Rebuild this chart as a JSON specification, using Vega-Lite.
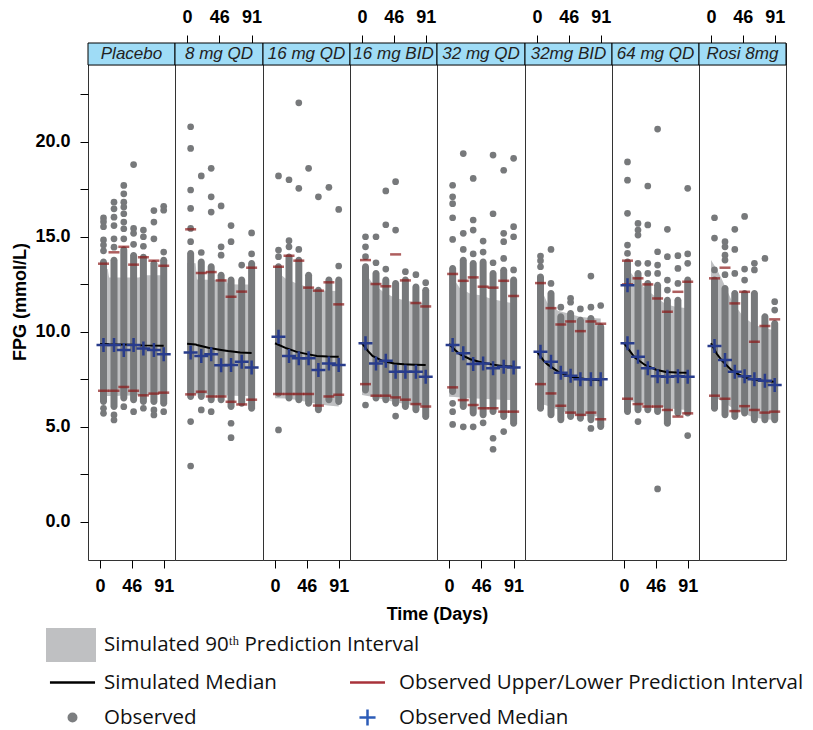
{
  "$schema": "https://vega.github.io/schema/vega-lite/v6.json",
  "background": "white",
  "padding": {"left": 11, "top": 7, "right": 0, "bottom": 0},
  "bounds": "flush",
  "spacing": 0,
  "datasets": {
    "d": [
      {"arm":"Placebo","k":"h"},{"arm":"8 mg QD","k":"h"},{"arm":"16 mg QD","k":"h"},{"arm":"16 mg BID","k":"h"},
      {"arm":"32 mg QD","k":"h"},{"arm":"32mg BID","k":"h"},{"arm":"64 mg QD","k":"h"},{"arm":"Rosi 8mg","k":"h"},
      {"arm":"Placebo","k":"L","s":"Simulated Median"},{"arm":"Placebo","k":"L","s":"Observed"},
      {"arm":"Placebo","k":"L","s":"Observed Upper/Lower Prediction Interval"},{"arm":"Placebo","k":"L","s":"Observed Median"},

      {"arm":"Placebo","k":"b","d":0,"lo":6.62,"hi":13.3,"m":9.35},{"arm":"Placebo","k":"b","d":11,"lo":6.62,"hi":13.3,"m":9.35},
      {"arm":"Placebo","k":"b","d":13,"lo":6.62,"hi":12.86,"m":9.34},{"arm":"Placebo","k":"b","d":46,"lo":6.64,"hi":12.86,"m":9.31},
      {"arm":"Placebo","k":"b","d":56,"lo":6.66,"hi":12.86,"m":9.29},{"arm":"Placebo","k":"b","d":60,"lo":6.68,"hi":12.97,"m":9.28},
      {"arm":"Placebo","k":"b","d":91,"lo":6.75,"hi":12.97,"m":9.26},
      {"arm":"8 mg QD","k":"b","d":0,"lo":6.72,"hi":13.63,"m":9.37},{"arm":"8 mg QD","k":"b","d":12,"lo":6.72,"hi":13.6,"m":9.33},
      {"arm":"8 mg QD","k":"b","d":14,"lo":6.71,"hi":12.75,"m":9.3},{"arm":"8 mg QD","k":"b","d":30,"lo":6.69,"hi":12.74,"m":9.15},
      {"arm":"8 mg QD","k":"b","d":46,"lo":6.67,"hi":12.72,"m":9.05},{"arm":"8 mg QD","k":"b","d":55,"lo":6.65,"hi":12.7,"m":9.0},
      {"arm":"8 mg QD","k":"b","d":58,"lo":6.64,"hi":12.5,"m":8.98},{"arm":"8 mg QD","k":"b","d":75,"lo":6.62,"hi":12.48,"m":8.9},
      {"arm":"8 mg QD","k":"b","d":91,"lo":6.61,"hi":12.48,"m":8.88},
      {"arm":"16 mg QD","k":"b","d":0,"lo":6.5,"hi":13.25,"m":9.39},{"arm":"16 mg QD","k":"b","d":15,"lo":6.48,"hi":12.8,"m":9.15},
      {"arm":"16 mg QD","k":"b","d":30,"lo":6.42,"hi":12.55,"m":8.95},{"arm":"16 mg QD","k":"b","d":46,"lo":6.3,"hi":12.35,"m":8.82},
      {"arm":"16 mg QD","k":"b","d":60,"lo":6.2,"hi":12.2,"m":8.72},{"arm":"16 mg QD","k":"b","d":75,"lo":6.12,"hi":12.15,"m":8.69},
      {"arm":"16 mg QD","k":"b","d":91,"lo":6.06,"hi":12.14,"m":8.68},
      {"arm":"16 mg BID","k":"b","d":0,"lo":6.67,"hi":13.25,"m":9.4},{"arm":"16 mg BID","k":"b","d":8,"lo":6.62,"hi":12.9,"m":9.0},
      {"arm":"16 mg BID","k":"b","d":15,"lo":6.58,"hi":12.55,"m":8.72},{"arm":"16 mg BID","k":"b","d":30,"lo":6.45,"hi":12.1,"m":8.45},
      {"arm":"16 mg BID","k":"b","d":46,"lo":6.3,"hi":11.8,"m":8.33},{"arm":"16 mg BID","k":"b","d":60,"lo":6.2,"hi":11.65,"m":8.28},
      {"arm":"16 mg BID","k":"b","d":75,"lo":6.12,"hi":11.55,"m":8.26},{"arm":"16 mg BID","k":"b","d":91,"lo":6.06,"hi":11.49,"m":8.25},
      {"arm":"32 mg QD","k":"b","d":0,"lo":6.58,"hi":13.16,"m":9.35},{"arm":"32 mg QD","k":"b","d":8,"lo":6.56,"hi":12.7,"m":9.05},
      {"arm":"32 mg QD","k":"b","d":15,"lo":6.54,"hi":12.3,"m":8.82},{"arm":"32 mg QD","k":"b","d":30,"lo":6.5,"hi":12.0,"m":8.55},
      {"arm":"32 mg QD","k":"b","d":46,"lo":6.47,"hi":11.9,"m":8.38},{"arm":"32 mg QD","k":"b","d":60,"lo":6.44,"hi":11.72,"m":8.28},
      {"arm":"32 mg QD","k":"b","d":75,"lo":6.42,"hi":11.6,"m":8.2},{"arm":"32 mg QD","k":"b","d":91,"lo":6.4,"hi":11.49,"m":8.16},
      {"arm":"32mg BID","k":"b","d":0,"lo":6.23,"hi":13.07,"m":8.95},{"arm":"32mg BID","k":"b","d":5,"lo":6.2,"hi":12.6,"m":8.7},
      {"arm":"32mg BID","k":"b","d":10,"lo":6.15,"hi":11.9,"m":8.45},{"arm":"32mg BID","k":"b","d":15,"lo":6.1,"hi":11.5,"m":8.28},
      {"arm":"32mg BID","k":"b","d":30,"lo":5.9,"hi":11.1,"m":7.9},{"arm":"32mg BID","k":"b","d":46,"lo":5.7,"hi":10.95,"m":7.65},
      {"arm":"32mg BID","k":"b","d":60,"lo":5.6,"hi":10.8,"m":7.55},{"arm":"32mg BID","k":"b","d":75,"lo":5.55,"hi":10.72,"m":7.48},
      {"arm":"32mg BID","k":"b","d":91,"lo":5.53,"hi":10.7,"m":7.45},
      {"arm":"64 mg QD","k":"b","d":0,"lo":6.4,"hi":13.7,"m":9.4},{"arm":"64 mg QD","k":"b","d":8,"lo":6.35,"hi":13.2,"m":9.0},
      {"arm":"64 mg QD","k":"b","d":15,"lo":6.3,"hi":12.85,"m":8.65},{"arm":"64 mg QD","k":"b","d":30,"lo":6.2,"hi":12.3,"m":8.25},
      {"arm":"64 mg QD","k":"b","d":46,"lo":6.1,"hi":11.8,"m":8.0},{"arm":"64 mg QD","k":"b","d":60,"lo":6.0,"hi":11.45,"m":7.88},
      {"arm":"64 mg QD","k":"b","d":75,"lo":5.92,"hi":11.3,"m":7.85},{"arm":"64 mg QD","k":"b","d":91,"lo":5.88,"hi":11.23,"m":7.84},
      {"arm":"Rosi 8mg","k":"b","d":0,"lo":6.67,"hi":13.77,"m":9.39},{"arm":"Rosi 8mg","k":"b","d":8,"lo":6.5,"hi":13.3,"m":8.85},
      {"arm":"Rosi 8mg","k":"b","d":15,"lo":6.35,"hi":12.8,"m":8.5},{"arm":"Rosi 8mg","k":"b","d":30,"lo":6.0,"hi":11.6,"m":7.95},
      {"arm":"Rosi 8mg","k":"b","d":46,"lo":5.7,"hi":10.8,"m":7.62},{"arm":"Rosi 8mg","k":"b","d":60,"lo":5.5,"hi":10.4,"m":7.48},
      {"arm":"Rosi 8mg","k":"b","d":75,"lo":5.4,"hi":10.2,"m":7.4},{"arm":"Rosi 8mg","k":"b","d":91,"lo":5.35,"hi":10.08,"m":7.37},

      {"arm":"Placebo","k":"c","d":5,"lo":6.14,"hi":13.86},{"arm":"Placebo","k":"c","d":20,"lo":5.88,"hi":13.95},
      {"arm":"Placebo","k":"c","d":34,"lo":6.32,"hi":14.5},{"arm":"Placebo","k":"c","d":48,"lo":6.23,"hi":14.2},
      {"arm":"Placebo","k":"c","d":62,"lo":6.14,"hi":14.1},{"arm":"Placebo","k":"c","d":77,"lo":6.14,"hi":13.77},
      {"arm":"Placebo","k":"c","d":91,"lo":6.05,"hi":13.95},
      {"arm":"8 mg QD","k":"c","d":5,"lo":6.4,"hi":14.3},{"arm":"8 mg QD","k":"c","d":20,"lo":6.4,"hi":13.86},
      {"arm":"8 mg QD","k":"c","d":34,"lo":6.23,"hi":13.6},{"arm":"8 mg QD","k":"c","d":48,"lo":6.23,"hi":13.16},
      {"arm":"8 mg QD","k":"c","d":62,"lo":5.88,"hi":12.9},{"arm":"8 mg QD","k":"c","d":77,"lo":6.05,"hi":12.9},
      {"arm":"8 mg QD","k":"c","d":91,"lo":5.79,"hi":13.77},
      {"arm":"16 mg QD","k":"c","d":5,"lo":6.58,"hi":13.6},{"arm":"16 mg QD","k":"c","d":20,"lo":6.32,"hi":14.12},
      {"arm":"16 mg QD","k":"c","d":34,"lo":6.23,"hi":13.95},{"arm":"16 mg QD","k":"c","d":48,"lo":6.05,"hi":13.16},
      {"arm":"16 mg QD","k":"c","d":62,"lo":5.7,"hi":12.37},{"arm":"16 mg QD","k":"c","d":77,"lo":6.23,"hi":12.9},
      {"arm":"16 mg QD","k":"c","d":91,"lo":6.14,"hi":12.9},
      {"arm":"16 mg BID","k":"c","d":5,"lo":6.75,"hi":13.6},{"arm":"16 mg BID","k":"c","d":20,"lo":6.32,"hi":13.25},
      {"arm":"16 mg BID","k":"c","d":34,"lo":6.23,"hi":12.9},{"arm":"16 mg BID","k":"c","d":48,"lo":6.05,"hi":12.72},
      {"arm":"16 mg BID","k":"c","d":62,"lo":5.88,"hi":12.9},{"arm":"16 mg BID","k":"c","d":77,"lo":5.7,"hi":12.54},
      {"arm":"16 mg BID","k":"c","d":91,"lo":5.35,"hi":12.37},
      {"arm":"32 mg QD","k":"c","d":5,"lo":6.67,"hi":13.51},{"arm":"32 mg QD","k":"c","d":20,"lo":5.88,"hi":13.95},
      {"arm":"32 mg QD","k":"c","d":34,"lo":5.53,"hi":13.77},{"arm":"32 mg QD","k":"c","d":48,"lo":5.44,"hi":13.86},
      {"arm":"32 mg QD","k":"c","d":62,"lo":5.61,"hi":13.25},{"arm":"32 mg QD","k":"c","d":77,"lo":5.35,"hi":13.42},
      {"arm":"32 mg QD","k":"c","d":91,"lo":5.0,"hi":12.9},
      {"arm":"32mg BID","k":"c","d":5,"lo":5.79,"hi":13.07},{"arm":"32mg BID","k":"c","d":20,"lo":5.44,"hi":12.19},
      {"arm":"32mg BID","k":"c","d":34,"lo":5.18,"hi":10.97},{"arm":"32mg BID","k":"c","d":48,"lo":5.35,"hi":11.14},
      {"arm":"32mg BID","k":"c","d":62,"lo":5.26,"hi":10.79},{"arm":"32mg BID","k":"c","d":77,"lo":5.18,"hi":10.88},
      {"arm":"32mg BID","k":"c","d":91,"lo":4.83,"hi":10.44},
      {"arm":"64 mg QD","k":"c","d":5,"lo":5.61,"hi":13.86},{"arm":"64 mg QD","k":"c","d":20,"lo":5.7,"hi":13.25},
      {"arm":"64 mg QD","k":"c","d":34,"lo":5.7,"hi":12.72},{"arm":"64 mg QD","k":"c","d":48,"lo":5.61,"hi":12.63},
      {"arm":"64 mg QD","k":"c","d":62,"lo":5.0,"hi":11.84},{"arm":"64 mg QD","k":"c","d":77,"lo":5.53,"hi":11.84},
      {"arm":"64 mg QD","k":"c","d":91,"lo":5.53,"hi":12.9},
      {"arm":"Rosi 8mg","k":"c","d":5,"lo":5.79,"hi":12.9},{"arm":"Rosi 8mg","k":"c","d":20,"lo":5.44,"hi":12.46},
      {"arm":"Rosi 8mg","k":"c","d":34,"lo":5.35,"hi":12.19},{"arm":"Rosi 8mg","k":"c","d":48,"lo":5.53,"hi":12.19},
      {"arm":"Rosi 8mg","k":"c","d":62,"lo":5.18,"hi":12.19},{"arm":"Rosi 8mg","k":"c","d":77,"lo":5.18,"hi":10.97},
      {"arm":"Rosi 8mg","k":"c","d":91,"lo":5.18,"hi":10.62},

      {"arm":"Placebo","k":"o","d":5,"v":15.99},{"arm":"Placebo","k":"o","d":5,"v":15.79},{"arm":"Placebo","k":"o","d":5,"v":15.53},
      {"arm":"Placebo","k":"o","d":5,"v":14.83},{"arm":"Placebo","k":"o","d":5,"v":14.56},{"arm":"Placebo","k":"o","d":5,"v":14.26},
      {"arm":"Placebo","k":"o","d":5,"v":5.97},{"arm":"Placebo","k":"o","d":5,"v":5.7},
      {"arm":"Placebo","k":"o","d":20,"v":16.82},{"arm":"Placebo","k":"o","d":20,"v":16.47},{"arm":"Placebo","k":"o","d":20,"v":16.03},
      {"arm":"Placebo","k":"o","d":20,"v":15.59},{"arm":"Placebo","k":"o","d":20,"v":14.89},{"arm":"Placebo","k":"o","d":20,"v":14.45},
      {"arm":"Placebo","k":"o","d":20,"v":5.62},{"arm":"Placebo","k":"o","d":20,"v":5.35},
      {"arm":"Placebo","k":"o","d":34,"v":17.7},{"arm":"Placebo","k":"o","d":34,"v":17.26},{"arm":"Placebo","k":"o","d":34,"v":16.82},
      {"arm":"Placebo","k":"o","d":34,"v":16.56},{"arm":"Placebo","k":"o","d":34,"v":16.21},{"arm":"Placebo","k":"o","d":34,"v":15.77},
      {"arm":"Placebo","k":"o","d":34,"v":15.42},{"arm":"Placebo","k":"o","d":34,"v":14.89},{"arm":"Placebo","k":"o","d":34,"v":6.05},
      {"arm":"Placebo","k":"o","d":48,"v":18.8},{"arm":"Placebo","k":"o","d":48,"v":15.44},{"arm":"Placebo","k":"o","d":48,"v":15.18},
      {"arm":"Placebo","k":"o","d":48,"v":14.6},{"arm":"Placebo","k":"o","d":48,"v":5.79},
      {"arm":"Placebo","k":"o","d":62,"v":15.35},{"arm":"Placebo","k":"o","d":62,"v":15.0},{"arm":"Placebo","k":"o","d":62,"v":14.5},
      {"arm":"Placebo","k":"o","d":62,"v":5.97},
      {"arm":"Placebo","k":"o","d":77,"v":16.38},{"arm":"Placebo","k":"o","d":77,"v":15.77},{"arm":"Placebo","k":"o","d":77,"v":14.89},
      {"arm":"Placebo","k":"o","d":77,"v":5.88},{"arm":"Placebo","k":"o","d":77,"v":5.62},
      {"arm":"Placebo","k":"o","d":91,"v":16.6},{"arm":"Placebo","k":"o","d":91,"v":16.4},{"arm":"Placebo","k":"o","d":91,"v":14.19},
      {"arm":"Placebo","k":"o","d":91,"v":5.79},

      {"arm":"8 mg QD","k":"o","d":5,"v":20.79},{"arm":"8 mg QD","k":"o","d":5,"v":19.65},{"arm":"8 mg QD","k":"o","d":5,"v":17.46},
      {"arm":"8 mg QD","k":"o","d":5,"v":16.49},{"arm":"8 mg QD","k":"o","d":5,"v":15.44},{"arm":"8 mg QD","k":"o","d":5,"v":14.74},
      {"arm":"8 mg QD","k":"o","d":5,"v":5.27},{"arm":"8 mg QD","k":"o","d":5,"v":2.93},
      {"arm":"8 mg QD","k":"o","d":20,"v":18.2},{"arm":"8 mg QD","k":"o","d":20,"v":14.17},{"arm":"8 mg QD","k":"o","d":20,"v":5.88},
      {"arm":"8 mg QD","k":"o","d":34,"v":18.6},{"arm":"8 mg QD","k":"o","d":34,"v":17.1},{"arm":"8 mg QD","k":"o","d":34,"v":16.3},
      {"arm":"8 mg QD","k":"o","d":34,"v":5.79},
      {"arm":"8 mg QD","k":"o","d":48,"v":16.62},{"arm":"8 mg QD","k":"o","d":48,"v":14.47},{"arm":"8 mg QD","k":"o","d":48,"v":14.03},
      {"arm":"8 mg QD","k":"o","d":62,"v":15.59},{"arm":"8 mg QD","k":"o","d":62,"v":14.74},{"arm":"8 mg QD","k":"o","d":62,"v":5.18},
      {"arm":"8 mg QD","k":"o","d":62,"v":4.42},
      {"arm":"8 mg QD","k":"o","d":77,"v":13.51},
      {"arm":"8 mg QD","k":"o","d":91,"v":15.2},{"arm":"8 mg QD","k":"o","d":91,"v":14.1},

      {"arm":"16 mg QD","k":"o","d":5,"v":18.2},{"arm":"16 mg QD","k":"o","d":5,"v":14.3},{"arm":"16 mg QD","k":"o","d":5,"v":13.95},
      {"arm":"16 mg QD","k":"o","d":5,"v":4.83},
      {"arm":"16 mg QD","k":"o","d":20,"v":18.0},{"arm":"16 mg QD","k":"o","d":20,"v":14.79},{"arm":"16 mg QD","k":"o","d":20,"v":14.47},
      {"arm":"16 mg QD","k":"o","d":34,"v":22.05},{"arm":"16 mg QD","k":"o","d":34,"v":17.55},{"arm":"16 mg QD","k":"o","d":34,"v":14.33},
      {"arm":"16 mg QD","k":"o","d":48,"v":18.6},
      {"arm":"16 mg QD","k":"o","d":62,"v":17.1},
      {"arm":"16 mg QD","k":"o","d":77,"v":17.6},
      {"arm":"16 mg QD","k":"o","d":91,"v":16.44},{"arm":"16 mg QD","k":"o","d":91,"v":13.46},

      {"arm":"16 mg BID","k":"o","d":5,"v":15.0},{"arm":"16 mg BID","k":"o","d":5,"v":14.47},{"arm":"16 mg BID","k":"o","d":5,"v":13.95},
      {"arm":"16 mg BID","k":"o","d":5,"v":6.14},
      {"arm":"16 mg BID","k":"o","d":20,"v":15.0},{"arm":"16 mg BID","k":"o","d":20,"v":13.63},
      {"arm":"16 mg BID","k":"o","d":34,"v":17.41},{"arm":"16 mg BID","k":"o","d":34,"v":15.63},{"arm":"16 mg BID","k":"o","d":34,"v":13.3},
      {"arm":"16 mg BID","k":"o","d":48,"v":17.9},{"arm":"16 mg BID","k":"o","d":48,"v":15.35},{"arm":"16 mg BID","k":"o","d":48,"v":5.56},
      {"arm":"16 mg BID","k":"o","d":62,"v":13.16},
      {"arm":"16 mg BID","k":"o","d":77,"v":13.0},
      {"arm":"16 mg BID","k":"o","d":91,"v":12.58},

      {"arm":"32 mg QD","k":"o","d":5,"v":17.71},{"arm":"32 mg QD","k":"o","d":5,"v":17.1},{"arm":"32 mg QD","k":"o","d":5,"v":16.74},
      {"arm":"32 mg QD","k":"o","d":5,"v":16.0},{"arm":"32 mg QD","k":"o","d":5,"v":14.86},{"arm":"32 mg QD","k":"o","d":5,"v":6.23},
      {"arm":"32 mg QD","k":"o","d":5,"v":5.79},{"arm":"32 mg QD","k":"o","d":5,"v":5.12},
      {"arm":"32 mg QD","k":"o","d":20,"v":19.38},{"arm":"32 mg QD","k":"o","d":20,"v":15.18},{"arm":"32 mg QD","k":"o","d":20,"v":14.33},
      {"arm":"32 mg QD","k":"o","d":20,"v":4.99},
      {"arm":"32 mg QD","k":"o","d":34,"v":18.07},{"arm":"32 mg QD","k":"o","d":34,"v":15.88},{"arm":"32 mg QD","k":"o","d":34,"v":15.35},
      {"arm":"32 mg QD","k":"o","d":34,"v":14.1},{"arm":"32 mg QD","k":"o","d":34,"v":4.99},
      {"arm":"32 mg QD","k":"o","d":48,"v":14.77},{"arm":"32 mg QD","k":"o","d":48,"v":14.19},{"arm":"32 mg QD","k":"o","d":48,"v":5.2},
      {"arm":"32 mg QD","k":"o","d":62,"v":19.3},{"arm":"32 mg QD","k":"o","d":62,"v":16.21},{"arm":"32 mg QD","k":"o","d":62,"v":13.63},
      {"arm":"32 mg QD","k":"o","d":62,"v":4.39},{"arm":"32 mg QD","k":"o","d":62,"v":3.81},
      {"arm":"32 mg QD","k":"o","d":77,"v":18.5},{"arm":"32 mg QD","k":"o","d":77,"v":15.18},{"arm":"32 mg QD","k":"o","d":77,"v":14.74},
      {"arm":"32 mg QD","k":"o","d":77,"v":13.86},{"arm":"32 mg QD","k":"o","d":77,"v":4.74},
      {"arm":"32 mg QD","k":"o","d":91,"v":19.13},{"arm":"32 mg QD","k":"o","d":91,"v":15.53},{"arm":"32 mg QD","k":"o","d":91,"v":15.0},
      {"arm":"32 mg QD","k":"o","d":91,"v":13.25},

      {"arm":"32mg BID","k":"o","d":5,"v":13.98},{"arm":"32mg BID","k":"o","d":5,"v":13.74},{"arm":"32mg BID","k":"o","d":5,"v":13.42},
      {"arm":"32mg BID","k":"o","d":20,"v":14.33},{"arm":"32mg BID","k":"o","d":20,"v":12.54},
      {"arm":"32mg BID","k":"o","d":34,"v":11.29},
      {"arm":"32mg BID","k":"o","d":48,"v":11.76},{"arm":"32mg BID","k":"o","d":48,"v":11.55},
      {"arm":"32mg BID","k":"o","d":62,"v":11.2},
      {"arm":"32mg BID","k":"o","d":77,"v":12.93},{"arm":"32mg BID","k":"o","d":77,"v":11.29},{"arm":"32mg BID","k":"o","d":77,"v":4.91},
      {"arm":"32mg BID","k":"o","d":91,"v":11.38},

      {"arm":"64 mg QD","k":"o","d":5,"v":18.94},{"arm":"64 mg QD","k":"o","d":5,"v":17.98},{"arm":"64 mg QD","k":"o","d":5,"v":16.23},
      {"arm":"64 mg QD","k":"o","d":5,"v":14.56},{"arm":"64 mg QD","k":"o","d":5,"v":14.12},
      {"arm":"64 mg QD","k":"o","d":20,"v":15.7},{"arm":"64 mg QD","k":"o","d":20,"v":15.35},{"arm":"64 mg QD","k":"o","d":20,"v":15.09},
      {"arm":"64 mg QD","k":"o","d":20,"v":13.6},{"arm":"64 mg QD","k":"o","d":20,"v":5.27},
      {"arm":"64 mg QD","k":"o","d":34,"v":17.67},{"arm":"64 mg QD","k":"o","d":34,"v":15.62},{"arm":"64 mg QD","k":"o","d":34,"v":13.6},
      {"arm":"64 mg QD","k":"o","d":34,"v":13.07},
      {"arm":"64 mg QD","k":"o","d":48,"v":20.67},{"arm":"64 mg QD","k":"o","d":48,"v":14.21},{"arm":"64 mg QD","k":"o","d":48,"v":13.51},
      {"arm":"64 mg QD","k":"o","d":48,"v":13.07},{"arm":"64 mg QD","k":"o","d":48,"v":1.72},
      {"arm":"64 mg QD","k":"o","d":62,"v":15.39},{"arm":"64 mg QD","k":"o","d":62,"v":13.95},{"arm":"64 mg QD","k":"o","d":62,"v":12.72},
      {"arm":"64 mg QD","k":"o","d":62,"v":12.19},
      {"arm":"64 mg QD","k":"o","d":77,"v":14.0},{"arm":"64 mg QD","k":"o","d":77,"v":13.33},{"arm":"64 mg QD","k":"o","d":77,"v":12.54},
      {"arm":"64 mg QD","k":"o","d":91,"v":17.55},{"arm":"64 mg QD","k":"o","d":91,"v":14.1},{"arm":"64 mg QD","k":"o","d":91,"v":13.6},
      {"arm":"64 mg QD","k":"o","d":91,"v":4.53},

      {"arm":"Rosi 8mg","k":"o","d":5,"v":16.0},{"arm":"Rosi 8mg","k":"o","d":5,"v":14.93},{"arm":"Rosi 8mg","k":"o","d":5,"v":13.25},
      {"arm":"Rosi 8mg","k":"o","d":20,"v":14.74},{"arm":"Rosi 8mg","k":"o","d":20,"v":14.47},{"arm":"Rosi 8mg","k":"o","d":20,"v":14.03},
      {"arm":"Rosi 8mg","k":"o","d":20,"v":13.77},{"arm":"Rosi 8mg","k":"o","d":20,"v":13.0},
      {"arm":"Rosi 8mg","k":"o","d":34,"v":15.39},{"arm":"Rosi 8mg","k":"o","d":34,"v":14.33},{"arm":"Rosi 8mg","k":"o","d":34,"v":13.07},
      {"arm":"Rosi 8mg","k":"o","d":48,"v":16.07},{"arm":"Rosi 8mg","k":"o","d":48,"v":13.3},{"arm":"Rosi 8mg","k":"o","d":48,"v":12.72},
      {"arm":"Rosi 8mg","k":"o","d":62,"v":13.6},{"arm":"Rosi 8mg","k":"o","d":62,"v":13.25},
      {"arm":"Rosi 8mg","k":"o","d":77,"v":13.86},
      {"arm":"Rosi 8mg","k":"o","d":91,"v":11.58},{"arm":"Rosi 8mg","k":"o","d":91,"v":11.14},

      {"arm":"Placebo","k":"p","d":5,"v":13.58},{"arm":"Placebo","k":"p","d":20,"v":14.18},{"arm":"Placebo","k":"p","d":34,"v":14.47},
      {"arm":"Placebo","k":"p","d":48,"v":13.53},{"arm":"Placebo","k":"p","d":62,"v":13.92},{"arm":"Placebo","k":"p","d":77,"v":13.74},
      {"arm":"Placebo","k":"p","d":91,"v":13.47},
      {"arm":"Placebo","k":"p","d":5,"v":6.89},{"arm":"Placebo","k":"p","d":20,"v":6.89},{"arm":"Placebo","k":"p","d":34,"v":7.09},
      {"arm":"Placebo","k":"p","d":48,"v":6.89},{"arm":"Placebo","k":"p","d":62,"v":6.65},{"arm":"Placebo","k":"p","d":77,"v":6.74},
      {"arm":"Placebo","k":"p","d":91,"v":6.79},
      {"arm":"8 mg QD","k":"p","d":5,"v":15.39},{"arm":"8 mg QD","k":"p","d":20,"v":13.09},{"arm":"8 mg QD","k":"p","d":34,"v":13.14},
      {"arm":"8 mg QD","k":"p","d":48,"v":12.7},{"arm":"8 mg QD","k":"p","d":62,"v":11.84},{"arm":"8 mg QD","k":"p","d":77,"v":12.11},
      {"arm":"8 mg QD","k":"p","d":91,"v":13.37},
      {"arm":"8 mg QD","k":"p","d":5,"v":6.7},{"arm":"8 mg QD","k":"p","d":20,"v":6.84},{"arm":"8 mg QD","k":"p","d":34,"v":6.59},
      {"arm":"8 mg QD","k":"p","d":48,"v":6.59},{"arm":"8 mg QD","k":"p","d":62,"v":6.31},{"arm":"8 mg QD","k":"p","d":77,"v":6.17},
      {"arm":"8 mg QD","k":"p","d":91,"v":6.42},
      {"arm":"16 mg QD","k":"p","d":5,"v":13.42},{"arm":"16 mg QD","k":"p","d":20,"v":14.0},{"arm":"16 mg QD","k":"p","d":34,"v":13.74},
      {"arm":"16 mg QD","k":"p","d":48,"v":12.32},{"arm":"16 mg QD","k":"p","d":62,"v":12.16},{"arm":"16 mg QD","k":"p","d":77,"v":12.6},
      {"arm":"16 mg QD","k":"p","d":91,"v":11.44},
      {"arm":"16 mg QD","k":"p","d":5,"v":6.72},{"arm":"16 mg QD","k":"p","d":20,"v":6.72},{"arm":"16 mg QD","k":"p","d":34,"v":6.72},
      {"arm":"16 mg QD","k":"p","d":48,"v":6.72},{"arm":"16 mg QD","k":"p","d":62,"v":6.11},{"arm":"16 mg QD","k":"p","d":77,"v":6.59},
      {"arm":"16 mg QD","k":"p","d":91,"v":6.68},
      {"arm":"16 mg BID","k":"p","d":5,"v":13.77},{"arm":"16 mg BID","k":"p","d":20,"v":12.51},{"arm":"16 mg BID","k":"p","d":34,"v":12.39},
      {"arm":"16 mg BID","k":"p","d":48,"v":14.07},{"arm":"16 mg BID","k":"p","d":62,"v":12.7},{"arm":"16 mg BID","k":"p","d":77,"v":11.51},
      {"arm":"16 mg BID","k":"p","d":91,"v":11.33},
      {"arm":"16 mg BID","k":"p","d":5,"v":7.24},{"arm":"16 mg BID","k":"p","d":20,"v":6.63},{"arm":"16 mg BID","k":"p","d":34,"v":6.63},
      {"arm":"16 mg BID","k":"p","d":48,"v":6.54},{"arm":"16 mg BID","k":"p","d":62,"v":6.42},{"arm":"16 mg BID","k":"p","d":77,"v":6.19},
      {"arm":"16 mg BID","k":"p","d":91,"v":6.06},
      {"arm":"32 mg QD","k":"p","d":5,"v":13.04},{"arm":"32 mg QD","k":"p","d":20,"v":12.68},{"arm":"32 mg QD","k":"p","d":34,"v":12.86},
      {"arm":"32 mg QD","k":"p","d":48,"v":12.37},{"arm":"32 mg QD","k":"p","d":62,"v":12.32},{"arm":"32 mg QD","k":"p","d":77,"v":12.68},
      {"arm":"32 mg QD","k":"p","d":91,"v":11.88},
      {"arm":"32 mg QD","k":"p","d":5,"v":7.07},{"arm":"32 mg QD","k":"p","d":20,"v":6.4},{"arm":"32 mg QD","k":"p","d":34,"v":6.14},
      {"arm":"32 mg QD","k":"p","d":48,"v":5.97},{"arm":"32 mg QD","k":"p","d":62,"v":5.97},{"arm":"32 mg QD","k":"p","d":77,"v":5.79},
      {"arm":"32 mg QD","k":"p","d":91,"v":5.79},
      {"arm":"32mg BID","k":"p","d":5,"v":12.56},{"arm":"32mg BID","k":"p","d":20,"v":11.24},{"arm":"32mg BID","k":"p","d":34,"v":10.38},
      {"arm":"32mg BID","k":"p","d":48,"v":10.54},{"arm":"32mg BID","k":"p","d":62,"v":10.03},{"arm":"32mg BID","k":"p","d":77,"v":10.54},
      {"arm":"32mg BID","k":"p","d":91,"v":10.42},
      {"arm":"32mg BID","k":"p","d":5,"v":7.24},{"arm":"32mg BID","k":"p","d":20,"v":6.75},{"arm":"32mg BID","k":"p","d":34,"v":6.1},
      {"arm":"32mg BID","k":"p","d":48,"v":5.74},{"arm":"32mg BID","k":"p","d":62,"v":5.62},{"arm":"32mg BID","k":"p","d":77,"v":5.74},
      {"arm":"32mg BID","k":"p","d":91,"v":5.39},
      {"arm":"64 mg QD","k":"p","d":5,"v":13.74},{"arm":"64 mg QD","k":"p","d":5,"v":12.49},{"arm":"64 mg QD","k":"p","d":20,"v":12.81},
      {"arm":"64 mg QD","k":"p","d":34,"v":12.49},{"arm":"64 mg QD","k":"p","d":48,"v":11.75},{"arm":"64 mg QD","k":"p","d":62,"v":11.05},
      {"arm":"64 mg QD","k":"p","d":77,"v":12.1},{"arm":"64 mg QD","k":"p","d":91,"v":12.63},
      {"arm":"64 mg QD","k":"p","d":5,"v":6.47},{"arm":"64 mg QD","k":"p","d":20,"v":6.19},{"arm":"64 mg QD","k":"p","d":34,"v":6.06},
      {"arm":"64 mg QD","k":"p","d":48,"v":6.06},{"arm":"64 mg QD","k":"p","d":62,"v":5.88},{"arm":"64 mg QD","k":"p","d":77,"v":5.53},
      {"arm":"64 mg QD","k":"p","d":91,"v":5.7},
      {"arm":"Rosi 8mg","k":"p","d":5,"v":12.81},{"arm":"Rosi 8mg","k":"p","d":20,"v":13.37},{"arm":"Rosi 8mg","k":"p","d":34,"v":11.49},
      {"arm":"Rosi 8mg","k":"p","d":48,"v":12.1},{"arm":"Rosi 8mg","k":"p","d":62,"v":9.47},{"arm":"Rosi 8mg","k":"p","d":77,"v":10.3},
      {"arm":"Rosi 8mg","k":"p","d":91,"v":10.65},
      {"arm":"Rosi 8mg","k":"p","d":5,"v":6.63},{"arm":"Rosi 8mg","k":"p","d":20,"v":6.47},{"arm":"Rosi 8mg","k":"p","d":34,"v":5.82},
      {"arm":"Rosi 8mg","k":"p","d":48,"v":6.08},{"arm":"Rosi 8mg","k":"p","d":62,"v":5.88},{"arm":"Rosi 8mg","k":"p","d":77,"v":5.74},
      {"arm":"Rosi 8mg","k":"p","d":91,"v":5.79},

      {"arm":"Placebo","k":"m","d":5,"v":9.3},{"arm":"Placebo","k":"m","d":20,"v":9.3},{"arm":"Placebo","k":"m","d":34,"v":9.03},
      {"arm":"Placebo","k":"m","d":48,"v":9.3},{"arm":"Placebo","k":"m","d":62,"v":9.12},{"arm":"Placebo","k":"m","d":77,"v":9.03},
      {"arm":"Placebo","k":"m","d":91,"v":8.81},
      {"arm":"8 mg QD","k":"m","d":5,"v":8.9},{"arm":"8 mg QD","k":"m","d":20,"v":8.72},{"arm":"8 mg QD","k":"m","d":34,"v":8.81},
      {"arm":"8 mg QD","k":"m","d":48,"v":8.23},{"arm":"8 mg QD","k":"m","d":62,"v":8.25},{"arm":"8 mg QD","k":"m","d":77,"v":8.42},
      {"arm":"8 mg QD","k":"m","d":91,"v":8.11},
      {"arm":"16 mg QD","k":"m","d":5,"v":9.74},{"arm":"16 mg QD","k":"m","d":20,"v":8.72},{"arm":"16 mg QD","k":"m","d":34,"v":8.6},
      {"arm":"16 mg QD","k":"m","d":48,"v":8.6},{"arm":"16 mg QD","k":"m","d":62,"v":7.98},{"arm":"16 mg QD","k":"m","d":77,"v":8.33},
      {"arm":"16 mg QD","k":"m","d":91,"v":8.25},
      {"arm":"16 mg BID","k":"m","d":5,"v":9.39},{"arm":"16 mg BID","k":"m","d":20,"v":8.33},{"arm":"16 mg BID","k":"m","d":34,"v":8.47},
      {"arm":"16 mg BID","k":"m","d":48,"v":7.89},{"arm":"16 mg BID","k":"m","d":62,"v":7.89},{"arm":"16 mg BID","k":"m","d":77,"v":7.89},
      {"arm":"16 mg BID","k":"m","d":91,"v":7.63},
      {"arm":"32 mg QD","k":"m","d":5,"v":9.3},{"arm":"32 mg QD","k":"m","d":20,"v":8.86},{"arm":"32 mg QD","k":"m","d":34,"v":8.3},
      {"arm":"32 mg QD","k":"m","d":48,"v":8.33},{"arm":"32 mg QD","k":"m","d":62,"v":8.07},{"arm":"32 mg QD","k":"m","d":77,"v":8.16},
      {"arm":"32 mg QD","k":"m","d":91,"v":8.12},
      {"arm":"32mg BID","k":"m","d":5,"v":8.95},{"arm":"32mg BID","k":"m","d":20,"v":8.42},{"arm":"32mg BID","k":"m","d":34,"v":7.84},
      {"arm":"32mg BID","k":"m","d":48,"v":7.68},{"arm":"32mg BID","k":"m","d":62,"v":7.5},{"arm":"32mg BID","k":"m","d":77,"v":7.49},
      {"arm":"32mg BID","k":"m","d":91,"v":7.49},
      {"arm":"64 mg QD","k":"m","d":5,"v":9.39},{"arm":"64 mg QD","k":"m","d":5,"v":12.44},{"arm":"64 mg QD","k":"m","d":20,"v":8.68},
      {"arm":"64 mg QD","k":"m","d":34,"v":8.07},{"arm":"64 mg QD","k":"m","d":48,"v":7.66},{"arm":"64 mg QD","k":"m","d":62,"v":7.63},
      {"arm":"64 mg QD","k":"m","d":77,"v":7.66},{"arm":"64 mg QD","k":"m","d":91,"v":7.63},
      {"arm":"Rosi 8mg","k":"m","d":5,"v":9.25},{"arm":"Rosi 8mg","k":"m","d":20,"v":8.51},{"arm":"Rosi 8mg","k":"m","d":34,"v":7.89},
      {"arm":"Rosi 8mg","k":"m","d":48,"v":7.66},{"arm":"Rosi 8mg","k":"m","d":62,"v":7.49},{"arm":"Rosi 8mg","k":"m","d":77,"v":7.42},
      {"arm":"Rosi 8mg","k":"m","d":91,"v":7.19}
    ]
  },
  "hconcat": [
    {
      "width": 87, "height": 517,
      "data": {"name": "d"},
      "transform": [{"filter": "datum.arm === 'Placebo'"}],
      "layer": [
        {"transform": [{"filter": "datum.k === 'b'"}], "mark": {"type": "area"},
         "encoding": {
           "x": {"field": "d", "type": "quantitative", "scale": {"domain": [-10, 100], "nice": false, "zero": false},
                 "axis": {"orient": "bottom", "values": [0, 22.75, 45.5, 68.25, 91], "labelExpr": "datum.value == 0 ? '0' : datum.value == 45.5 ? '46' : datum.value == 91 ? '91' : ''", "title": null}},
           "y": {"field": "lo", "type": "quantitative", "scale": {"domain": [-2.02, 25.2], "nice": false, "zero": false},
                 "axis": {"values": [0, 2.5, 5, 7.5, 10, 12.5, 15, 17.5, 20, 22.5], "labelExpr": "datum.value % 5 == 0 ? format(datum.value, '.1f') : ''", "title": "FPG (mmol/L)", "labelPadding": 10, "titlePadding": 5}},
           "y2": {"field": "hi"},
           "color": {"datum": "Simulated 90ᵗʰ Prediction Interval", "scale": {"range": ["#bfc0c2"]},
                     "legend": {"orient": "none", "legendX": -42, "legendY": 577, "title": null, "padding": 0, "symbolType": "M-1,-0.68H1V0.68H-1Z", "symbolSize": 2500, "symbolStrokeWidth": 0, "labelFont": "Open Sans", "labelFontSize": 20.5, "labelColor": "#111", "labelOffset": 8, "labelLimit": 0}}
         }},
        {"transform": [{"filter": "datum.k === 'h'"}], "mark": {"type": "rect", "fill": "#9fdcf6", "stroke": "#000", "strokeWidth": 1},
         "encoding": {"x": {"value": 0}, "x2": {"value": "width"}, "y": {"datum": 24.04, "type": "quantitative"}, "y2": {"datum": 25.2}}},
        {"transform": [{"filter": "datum.k === 'h'"}], "mark": {"type": "text", "font": "Liberation Sans", "fontStyle": "italic", "fontSize": 17, "color": "#222", "baseline": "middle", "align": "center"},
         "encoding": {"x": {"datum": 45, "type": "quantitative"}, "y": {"datum": 24.62, "type": "quantitative"}, "text": {"field": "arm"}}},
        {"transform": [{"filter": "datum.k === 'c'"}], "mark": {"type": "bar", "width": 7, "cornerRadius": 3.5, "color": "#77797b"},
         "encoding": {"x": {"field": "d", "type": "quantitative"}, "y": {"field": "lo", "type": "quantitative"}, "y2": {"field": "hi"}}},
        {"transform": [{"filter": "datum.k === 'o'"}], "mark": {"type": "point", "filled": true, "size": 45, "opacity": 1, "color": "#77797b"},
         "encoding": {"x": {"field": "d", "type": "quantitative"}, "y": {"field": "v", "type": "quantitative"}}},
        {"transform": [{"filter": "datum.k === 'b'"}], "mark": {"type": "line", "color": "#000", "strokeWidth": 2},
         "encoding": {"x": {"field": "d", "type": "quantitative"}, "y": {"field": "m", "type": "quantitative"}}},
        {"transform": [{"filter": "datum.k === 'p'"}], "mark": {"type": "tick", "orient": "horizontal", "thickness": 2.5, "color": "#8b1a1a"},
         "encoding": {"x": {"field": "d", "type": "quantitative"}, "y": {"field": "v", "type": "quantitative"}, "size": {"value": 11}}},
        {"transform": [{"filter": "datum.k === 'm'"}], "mark": {"type": "point", "shape": "M-1,0H1M0,-1V1", "filled": false, "size": 196, "strokeWidth": 2.5, "color": "#283c8c", "opacity": 1},
         "encoding": {"x": {"field": "d", "type": "quantitative"}, "y": {"field": "v", "type": "quantitative"}}},
        {"transform": [{"filter": "datum.k === 'L'"}], "mark": {"type": "point", "filled": false, "opacity": 0, "strokeWidth": 2.5},
         "encoding": {
           "stroke": {"field": "s", "type": "nominal",
                    "scale": {"domain": ["Simulated Median", "Observed", "Observed Upper/Lower Prediction Interval", "Observed Median"], "range": ["#000000", "#7c7e80", "#a8323a", "#2c5cb8"]},
                    "legend": {"orient": "none", "legendX": -40, "legendY": 615, "title": null, "padding": 0, "columns": 2, "columnPadding": 66, "rowPadding": -19, "symbolSize": 2116, "symbolStrokeWidth": 2.5, "symbolOpacity": 1, "labelFont": "Open Sans", "labelFontSize": 20.5, "labelColor": "#111", "labelOffset": 7, "labelLimit": 0}},
           "shape": {"field": "s", "type": "nominal",
                    "scale": {"domain": ["Simulated Median", "Observed", "Observed Upper/Lower Prediction Interval", "Observed Median"], "range": ["M-0.98,0H0.98", "M-0.163,0A0.163,0.163,0,1,1,0.163,0A0.163,0.163,0,1,1,-0.163,0ZM-0.054,0A0.054,0.054,0,1,1,0.054,0A0.054,0.054,0,1,1,-0.054,0Z", "M-0.76,0H0.76", "M-0.35,0H0.35M0,-0.35V0.35"]},
                    "legend": {"title": null}}
         }}
      ]
    },
    {
      "width": 88, "height": 517,
      "data": {"name": "d"},
      "transform": [{"filter": "datum.arm === '8 mg QD'"}],
      "layer": [
        {"transform": [{"filter": "datum.k === 'b'"}], "mark": {"type": "area"},
         "encoding": {
           "x": {"field": "d", "type": "quantitative", "scale": {"domain": [-10, 100], "nice": false, "zero": false},
                 "axis": {"orient": "top", "values": [0, 22.75, 45.5, 68.25, 91], "labelExpr": "datum.value == 0 ? '0' : datum.value == 45.5 ? '46' : datum.value == 91 ? '91' : ''", "title": null}},
           "y": {"field": "lo", "type": "quantitative", "scale": {"domain": [-2.02, 25.2], "nice": false, "zero": false}, "axis": {"labels": false, "ticks": false, "domain": false, "title": null}},
           "y2": {"field": "hi"},
           "color": {"datum": "Simulated 90ᵗʰ Prediction Interval"}
         }},
        {"transform": [{"filter": "datum.k === 'h'"}], "mark": {"type": "rect", "fill": "#9fdcf6", "stroke": "#000", "strokeWidth": 1},
         "encoding": {"x": {"value": 0}, "x2": {"value": "width"}, "y": {"datum": 24.04, "type": "quantitative"}, "y2": {"datum": 25.2}}},
        {"transform": [{"filter": "datum.k === 'h'"}], "mark": {"type": "text", "font": "Liberation Sans", "fontStyle": "italic", "fontSize": 17, "color": "#222", "baseline": "middle", "align": "center"},
         "encoding": {"x": {"datum": 45, "type": "quantitative"}, "y": {"datum": 24.62, "type": "quantitative"}, "text": {"field": "arm"}}},
        {"transform": [{"filter": "datum.k === 'c'"}], "mark": {"type": "bar", "width": 7, "cornerRadius": 3.5, "color": "#77797b"},
         "encoding": {"x": {"field": "d", "type": "quantitative"}, "y": {"field": "lo", "type": "quantitative"}, "y2": {"field": "hi"}}},
        {"transform": [{"filter": "datum.k === 'o'"}], "mark": {"type": "point", "filled": true, "size": 45, "opacity": 1, "color": "#77797b"},
         "encoding": {"x": {"field": "d", "type": "quantitative"}, "y": {"field": "v", "type": "quantitative"}}},
        {"transform": [{"filter": "datum.k === 'b'"}], "mark": {"type": "line", "color": "#000", "strokeWidth": 2},
         "encoding": {"x": {"field": "d", "type": "quantitative"}, "y": {"field": "m", "type": "quantitative"}}},
        {"transform": [{"filter": "datum.k === 'p'"}], "mark": {"type": "tick", "orient": "horizontal", "thickness": 2.5, "color": "#8b1a1a"},
         "encoding": {"x": {"field": "d", "type": "quantitative"}, "y": {"field": "v", "type": "quantitative"}, "size": {"value": 11}}},
        {"transform": [{"filter": "datum.k === 'm'"}], "mark": {"type": "point", "shape": "M-1,0H1M0,-1V1", "filled": false, "size": 196, "strokeWidth": 2.5, "color": "#283c8c", "opacity": 1},
         "encoding": {"x": {"field": "d", "type": "quantitative"}, "y": {"field": "v", "type": "quantitative"}}}
      ]
    },
    {
      "width": 87, "height": 517,
      "data": {"name": "d"},
      "transform": [{"filter": "datum.arm === '16 mg QD'"}],
      "layer": [
        {"transform": [{"filter": "datum.k === 'b'"}], "mark": {"type": "area"},
         "encoding": {
           "x": {"field": "d", "type": "quantitative", "scale": {"domain": [-10, 100], "nice": false, "zero": false},
                 "axis": {"orient": "bottom", "values": [0, 22.75, 45.5, 68.25, 91], "labelExpr": "datum.value == 0 ? '0' : datum.value == 45.5 ? '46' : datum.value == 91 ? '91' : ''", "title": null}},
           "y": {"field": "lo", "type": "quantitative", "scale": {"domain": [-2.02, 25.2], "nice": false, "zero": false}, "axis": {"labels": false, "ticks": false, "domain": false, "title": null}},
           "y2": {"field": "hi"},
           "color": {"datum": "Simulated 90ᵗʰ Prediction Interval"}
         }},
        {"transform": [{"filter": "datum.k === 'h'"}], "mark": {"type": "rect", "fill": "#9fdcf6", "stroke": "#000", "strokeWidth": 1},
         "encoding": {"x": {"value": 0}, "x2": {"value": "width"}, "y": {"datum": 24.04, "type": "quantitative"}, "y2": {"datum": 25.2}}},
        {"transform": [{"filter": "datum.k === 'h'"}], "mark": {"type": "text", "font": "Liberation Sans", "fontStyle": "italic", "fontSize": 17, "color": "#222", "baseline": "middle", "align": "center"},
         "encoding": {"x": {"datum": 45, "type": "quantitative"}, "y": {"datum": 24.62, "type": "quantitative"}, "text": {"field": "arm"}}},
        {"transform": [{"filter": "datum.k === 'c'"}], "mark": {"type": "bar", "width": 7, "cornerRadius": 3.5, "color": "#77797b"},
         "encoding": {"x": {"field": "d", "type": "quantitative"}, "y": {"field": "lo", "type": "quantitative"}, "y2": {"field": "hi"}}},
        {"transform": [{"filter": "datum.k === 'o'"}], "mark": {"type": "point", "filled": true, "size": 45, "opacity": 1, "color": "#77797b"},
         "encoding": {"x": {"field": "d", "type": "quantitative"}, "y": {"field": "v", "type": "quantitative"}}},
        {"transform": [{"filter": "datum.k === 'b'"}], "mark": {"type": "line", "color": "#000", "strokeWidth": 2},
         "encoding": {"x": {"field": "d", "type": "quantitative"}, "y": {"field": "m", "type": "quantitative"}}},
        {"transform": [{"filter": "datum.k === 'p'"}], "mark": {"type": "tick", "orient": "horizontal", "thickness": 2.5, "color": "#8b1a1a"},
         "encoding": {"x": {"field": "d", "type": "quantitative"}, "y": {"field": "v", "type": "quantitative"}, "size": {"value": 11}}},
        {"transform": [{"filter": "datum.k === 'm'"}], "mark": {"type": "point", "shape": "M-1,0H1M0,-1V1", "filled": false, "size": 196, "strokeWidth": 2.5, "color": "#283c8c", "opacity": 1},
         "encoding": {"x": {"field": "d", "type": "quantitative"}, "y": {"field": "v", "type": "quantitative"}}}
      ]
    },
    {
      "width": 87, "height": 517,
      "data": {"name": "d"},
      "transform": [{"filter": "datum.arm === '16 mg BID'"}],
      "layer": [
        {"transform": [{"filter": "datum.k === 'b'"}], "mark": {"type": "area"},
         "encoding": {
           "x": {"field": "d", "type": "quantitative", "scale": {"domain": [-10, 100], "nice": false, "zero": false},
                 "axis": {"orient": "top", "values": [0, 22.75, 45.5, 68.25, 91], "labelExpr": "datum.value == 0 ? '0' : datum.value == 45.5 ? '46' : datum.value == 91 ? '91' : ''", "title": null}},
           "y": {"field": "lo", "type": "quantitative", "scale": {"domain": [-2.02, 25.2], "nice": false, "zero": false}, "axis": {"labels": false, "ticks": false, "domain": false, "title": null}},
           "y2": {"field": "hi"},
           "color": {"datum": "Simulated 90ᵗʰ Prediction Interval"}
         }},
        {"transform": [{"filter": "datum.k === 'h'"}], "mark": {"type": "rect", "fill": "#9fdcf6", "stroke": "#000", "strokeWidth": 1},
         "encoding": {"x": {"value": 0}, "x2": {"value": "width"}, "y": {"datum": 24.04, "type": "quantitative"}, "y2": {"datum": 25.2}}},
        {"transform": [{"filter": "datum.k === 'h'"}], "mark": {"type": "text", "font": "Liberation Sans", "fontStyle": "italic", "fontSize": 17, "color": "#222", "baseline": "middle", "align": "center"},
         "encoding": {"x": {"datum": 45, "type": "quantitative"}, "y": {"datum": 24.62, "type": "quantitative"}, "text": {"field": "arm"}}},
        {"transform": [{"filter": "datum.k === 'c'"}], "mark": {"type": "bar", "width": 7, "cornerRadius": 3.5, "color": "#77797b"},
         "encoding": {"x": {"field": "d", "type": "quantitative"}, "y": {"field": "lo", "type": "quantitative"}, "y2": {"field": "hi"}}},
        {"transform": [{"filter": "datum.k === 'o'"}], "mark": {"type": "point", "filled": true, "size": 45, "opacity": 1, "color": "#77797b"},
         "encoding": {"x": {"field": "d", "type": "quantitative"}, "y": {"field": "v", "type": "quantitative"}}},
        {"transform": [{"filter": "datum.k === 'b'"}], "mark": {"type": "line", "color": "#000", "strokeWidth": 2},
         "encoding": {"x": {"field": "d", "type": "quantitative"}, "y": {"field": "m", "type": "quantitative"}}},
        {"transform": [{"filter": "datum.k === 'p'"}], "mark": {"type": "tick", "orient": "horizontal", "thickness": 2.5, "color": "#8b1a1a"},
         "encoding": {"x": {"field": "d", "type": "quantitative"}, "y": {"field": "v", "type": "quantitative"}, "size": {"value": 11}}},
        {"transform": [{"filter": "datum.k === 'm'"}], "mark": {"type": "point", "shape": "M-1,0H1M0,-1V1", "filled": false, "size": 196, "strokeWidth": 2.5, "color": "#283c8c", "opacity": 1},
         "encoding": {"x": {"field": "d", "type": "quantitative"}, "y": {"field": "v", "type": "quantitative"}}}
      ]
    },
    {
      "width": 88, "height": 517,
      "data": {"name": "d"},
      "transform": [{"filter": "datum.arm === '32 mg QD'"}],
      "layer": [
        {"transform": [{"filter": "datum.k === 'b'"}], "mark": {"type": "area"},
         "encoding": {
           "x": {"field": "d", "type": "quantitative", "scale": {"domain": [-10, 100], "nice": false, "zero": false},
                 "axis": {"orient": "bottom", "values": [0, 22.75, 45.5, 68.25, 91], "labelExpr": "datum.value == 0 ? '0' : datum.value == 45.5 ? '46' : datum.value == 91 ? '91' : ''", "title": "Time (Days)", "titleX": 0, "titleY": 54, "titleAlign": "center", "titleBaseline": "middle"}},
           "y": {"field": "lo", "type": "quantitative", "scale": {"domain": [-2.02, 25.2], "nice": false, "zero": false}, "axis": {"labels": false, "ticks": false, "domain": false, "title": null}},
           "y2": {"field": "hi"},
           "color": {"datum": "Simulated 90ᵗʰ Prediction Interval"}
         }},
        {"transform": [{"filter": "datum.k === 'h'"}], "mark": {"type": "rect", "fill": "#9fdcf6", "stroke": "#000", "strokeWidth": 1},
         "encoding": {"x": {"value": 0}, "x2": {"value": "width"}, "y": {"datum": 24.04, "type": "quantitative"}, "y2": {"datum": 25.2}}},
        {"transform": [{"filter": "datum.k === 'h'"}], "mark": {"type": "text", "font": "Liberation Sans", "fontStyle": "italic", "fontSize": 17, "color": "#222", "baseline": "middle", "align": "center"},
         "encoding": {"x": {"datum": 45, "type": "quantitative"}, "y": {"datum": 24.62, "type": "quantitative"}, "text": {"field": "arm"}}},
        {"transform": [{"filter": "datum.k === 'c'"}], "mark": {"type": "bar", "width": 7, "cornerRadius": 3.5, "color": "#77797b"},
         "encoding": {"x": {"field": "d", "type": "quantitative"}, "y": {"field": "lo", "type": "quantitative"}, "y2": {"field": "hi"}}},
        {"transform": [{"filter": "datum.k === 'o'"}], "mark": {"type": "point", "filled": true, "size": 45, "opacity": 1, "color": "#77797b"},
         "encoding": {"x": {"field": "d", "type": "quantitative"}, "y": {"field": "v", "type": "quantitative"}}},
        {"transform": [{"filter": "datum.k === 'b'"}], "mark": {"type": "line", "color": "#000", "strokeWidth": 2},
         "encoding": {"x": {"field": "d", "type": "quantitative"}, "y": {"field": "m", "type": "quantitative"}}},
        {"transform": [{"filter": "datum.k === 'p'"}], "mark": {"type": "tick", "orient": "horizontal", "thickness": 2.5, "color": "#8b1a1a"},
         "encoding": {"x": {"field": "d", "type": "quantitative"}, "y": {"field": "v", "type": "quantitative"}, "size": {"value": 11}}},
        {"transform": [{"filter": "datum.k === 'm'"}], "mark": {"type": "point", "shape": "M-1,0H1M0,-1V1", "filled": false, "size": 196, "strokeWidth": 2.5, "color": "#283c8c", "opacity": 1},
         "encoding": {"x": {"field": "d", "type": "quantitative"}, "y": {"field": "v", "type": "quantitative"}}}
      ]
    },
    {
      "width": 87, "height": 517,
      "data": {"name": "d"},
      "transform": [{"filter": "datum.arm === '32mg BID'"}],
      "layer": [
        {"transform": [{"filter": "datum.k === 'b'"}], "mark": {"type": "area"},
         "encoding": {
           "x": {"field": "d", "type": "quantitative", "scale": {"domain": [-10, 100], "nice": false, "zero": false},
                 "axis": {"orient": "top", "values": [0, 22.75, 45.5, 68.25, 91], "labelExpr": "datum.value == 0 ? '0' : datum.value == 45.5 ? '46' : datum.value == 91 ? '91' : ''", "title": null}},
           "y": {"field": "lo", "type": "quantitative", "scale": {"domain": [-2.02, 25.2], "nice": false, "zero": false}, "axis": {"labels": false, "ticks": false, "domain": false, "title": null}},
           "y2": {"field": "hi"},
           "color": {"datum": "Simulated 90ᵗʰ Prediction Interval"}
         }},
        {"transform": [{"filter": "datum.k === 'h'"}], "mark": {"type": "rect", "fill": "#9fdcf6", "stroke": "#000", "strokeWidth": 1},
         "encoding": {"x": {"value": 0}, "x2": {"value": "width"}, "y": {"datum": 24.04, "type": "quantitative"}, "y2": {"datum": 25.2}}},
        {"transform": [{"filter": "datum.k === 'h'"}], "mark": {"type": "text", "font": "Liberation Sans", "fontStyle": "italic", "fontSize": 17, "color": "#222", "baseline": "middle", "align": "center"},
         "encoding": {"x": {"datum": 45, "type": "quantitative"}, "y": {"datum": 24.62, "type": "quantitative"}, "text": {"field": "arm"}}},
        {"transform": [{"filter": "datum.k === 'c'"}], "mark": {"type": "bar", "width": 7, "cornerRadius": 3.5, "color": "#77797b"},
         "encoding": {"x": {"field": "d", "type": "quantitative"}, "y": {"field": "lo", "type": "quantitative"}, "y2": {"field": "hi"}}},
        {"transform": [{"filter": "datum.k === 'o'"}], "mark": {"type": "point", "filled": true, "size": 45, "opacity": 1, "color": "#77797b"},
         "encoding": {"x": {"field": "d", "type": "quantitative"}, "y": {"field": "v", "type": "quantitative"}}},
        {"transform": [{"filter": "datum.k === 'b'"}], "mark": {"type": "line", "color": "#000", "strokeWidth": 2},
         "encoding": {"x": {"field": "d", "type": "quantitative"}, "y": {"field": "m", "type": "quantitative"}}},
        {"transform": [{"filter": "datum.k === 'p'"}], "mark": {"type": "tick", "orient": "horizontal", "thickness": 2.5, "color": "#8b1a1a"},
         "encoding": {"x": {"field": "d", "type": "quantitative"}, "y": {"field": "v", "type": "quantitative"}, "size": {"value": 11}}},
        {"transform": [{"filter": "datum.k === 'm'"}], "mark": {"type": "point", "shape": "M-1,0H1M0,-1V1", "filled": false, "size": 196, "strokeWidth": 2.5, "color": "#283c8c", "opacity": 1},
         "encoding": {"x": {"field": "d", "type": "quantitative"}, "y": {"field": "v", "type": "quantitative"}}}
      ]
    },
    {
      "width": 87, "height": 517,
      "data": {"name": "d"},
      "transform": [{"filter": "datum.arm === '64 mg QD'"}],
      "layer": [
        {"transform": [{"filter": "datum.k === 'b'"}], "mark": {"type": "area"},
         "encoding": {
           "x": {"field": "d", "type": "quantitative", "scale": {"domain": [-10, 100], "nice": false, "zero": false},
                 "axis": {"orient": "bottom", "values": [0, 22.75, 45.5, 68.25, 91], "labelExpr": "datum.value == 0 ? '0' : datum.value == 45.5 ? '46' : datum.value == 91 ? '91' : ''", "title": null}},
           "y": {"field": "lo", "type": "quantitative", "scale": {"domain": [-2.02, 25.2], "nice": false, "zero": false}, "axis": {"labels": false, "ticks": false, "domain": false, "title": null}},
           "y2": {"field": "hi"},
           "color": {"datum": "Simulated 90ᵗʰ Prediction Interval"}
         }},
        {"transform": [{"filter": "datum.k === 'h'"}], "mark": {"type": "rect", "fill": "#9fdcf6", "stroke": "#000", "strokeWidth": 1},
         "encoding": {"x": {"value": 0}, "x2": {"value": "width"}, "y": {"datum": 24.04, "type": "quantitative"}, "y2": {"datum": 25.2}}},
        {"transform": [{"filter": "datum.k === 'h'"}], "mark": {"type": "text", "font": "Liberation Sans", "fontStyle": "italic", "fontSize": 17, "color": "#222", "baseline": "middle", "align": "center"},
         "encoding": {"x": {"datum": 45, "type": "quantitative"}, "y": {"datum": 24.62, "type": "quantitative"}, "text": {"field": "arm"}}},
        {"transform": [{"filter": "datum.k === 'c'"}], "mark": {"type": "bar", "width": 7, "cornerRadius": 3.5, "color": "#77797b"},
         "encoding": {"x": {"field": "d", "type": "quantitative"}, "y": {"field": "lo", "type": "quantitative"}, "y2": {"field": "hi"}}},
        {"transform": [{"filter": "datum.k === 'o'"}], "mark": {"type": "point", "filled": true, "size": 45, "opacity": 1, "color": "#77797b"},
         "encoding": {"x": {"field": "d", "type": "quantitative"}, "y": {"field": "v", "type": "quantitative"}}},
        {"transform": [{"filter": "datum.k === 'b'"}], "mark": {"type": "line", "color": "#000", "strokeWidth": 2},
         "encoding": {"x": {"field": "d", "type": "quantitative"}, "y": {"field": "m", "type": "quantitative"}}},
        {"transform": [{"filter": "datum.k === 'p'"}], "mark": {"type": "tick", "orient": "horizontal", "thickness": 2.5, "color": "#8b1a1a"},
         "encoding": {"x": {"field": "d", "type": "quantitative"}, "y": {"field": "v", "type": "quantitative"}, "size": {"value": 11}}},
        {"transform": [{"filter": "datum.k === 'm'"}], "mark": {"type": "point", "shape": "M-1,0H1M0,-1V1", "filled": false, "size": 196, "strokeWidth": 2.5, "color": "#283c8c", "opacity": 1},
         "encoding": {"x": {"field": "d", "type": "quantitative"}, "y": {"field": "v", "type": "quantitative"}}}
      ]
    },
    {
      "width": 87, "height": 517,
      "data": {"name": "d"},
      "transform": [{"filter": "datum.arm === 'Rosi 8mg'"}],
      "layer": [
        {"transform": [{"filter": "datum.k === 'b'"}], "mark": {"type": "area"},
         "encoding": {
           "x": {"field": "d", "type": "quantitative", "scale": {"domain": [-10, 100], "nice": false, "zero": false},
                 "axis": {"orient": "top", "values": [0, 22.75, 45.5, 68.25, 91], "labelExpr": "datum.value == 0 ? '0' : datum.value == 45.5 ? '46' : datum.value == 91 ? '91' : ''", "title": null}},
           "y": {"field": "lo", "type": "quantitative", "scale": {"domain": [-2.02, 25.2], "nice": false, "zero": false}, "axis": {"labels": false, "ticks": false, "domain": false, "title": null}},
           "y2": {"field": "hi"},
           "color": {"datum": "Simulated 90ᵗʰ Prediction Interval"}
         }},
        {"transform": [{"filter": "datum.k === 'h'"}], "mark": {"type": "rect", "fill": "#9fdcf6", "stroke": "#000", "strokeWidth": 1},
         "encoding": {"x": {"value": 0}, "x2": {"value": "width"}, "y": {"datum": 24.04, "type": "quantitative"}, "y2": {"datum": 25.2}}},
        {"transform": [{"filter": "datum.k === 'h'"}], "mark": {"type": "text", "font": "Liberation Sans", "fontStyle": "italic", "fontSize": 17, "color": "#222", "baseline": "middle", "align": "center"},
         "encoding": {"x": {"datum": 45, "type": "quantitative"}, "y": {"datum": 24.62, "type": "quantitative"}, "text": {"field": "arm"}}},
        {"transform": [{"filter": "datum.k === 'c'"}], "mark": {"type": "bar", "width": 7, "cornerRadius": 3.5, "color": "#77797b"},
         "encoding": {"x": {"field": "d", "type": "quantitative"}, "y": {"field": "lo", "type": "quantitative"}, "y2": {"field": "hi"}}},
        {"transform": [{"filter": "datum.k === 'o'"}], "mark": {"type": "point", "filled": true, "size": 45, "opacity": 1, "color": "#77797b"},
         "encoding": {"x": {"field": "d", "type": "quantitative"}, "y": {"field": "v", "type": "quantitative"}}},
        {"transform": [{"filter": "datum.k === 'b'"}], "mark": {"type": "line", "color": "#000", "strokeWidth": 2},
         "encoding": {"x": {"field": "d", "type": "quantitative"}, "y": {"field": "m", "type": "quantitative"}}},
        {"transform": [{"filter": "datum.k === 'p'"}], "mark": {"type": "tick", "orient": "horizontal", "thickness": 2.5, "color": "#8b1a1a"},
         "encoding": {"x": {"field": "d", "type": "quantitative"}, "y": {"field": "v", "type": "quantitative"}, "size": {"value": 11}}},
        {"transform": [{"filter": "datum.k === 'm'"}], "mark": {"type": "point", "shape": "M-1,0H1M0,-1V1", "filled": false, "size": 196, "strokeWidth": 2.5, "color": "#283c8c", "opacity": 1},
         "encoding": {"x": {"field": "d", "type": "quantitative"}, "y": {"field": "v", "type": "quantitative"}}}
      ]
    }
  ],
  "config": {
    "view": {"stroke": "#333", "strokeWidth": 1},
    "font": "Liberation Sans",
    "axis": {"labelFont": "Liberation Sans", "labelFontWeight": "bold", "labelFontSize": 18, "labelColor": "#000", "labelPadding": 9, "labelOverlap": false, "labelFlush": false, "tickColor": "#000", "tickSize": 8, "tickWidth": 1, "grid": false, "domain": false, "titleFont": "Liberation Sans", "titleFontWeight": "bold", "titleFontSize": 18, "titleColor": "#000"}
  }
}
